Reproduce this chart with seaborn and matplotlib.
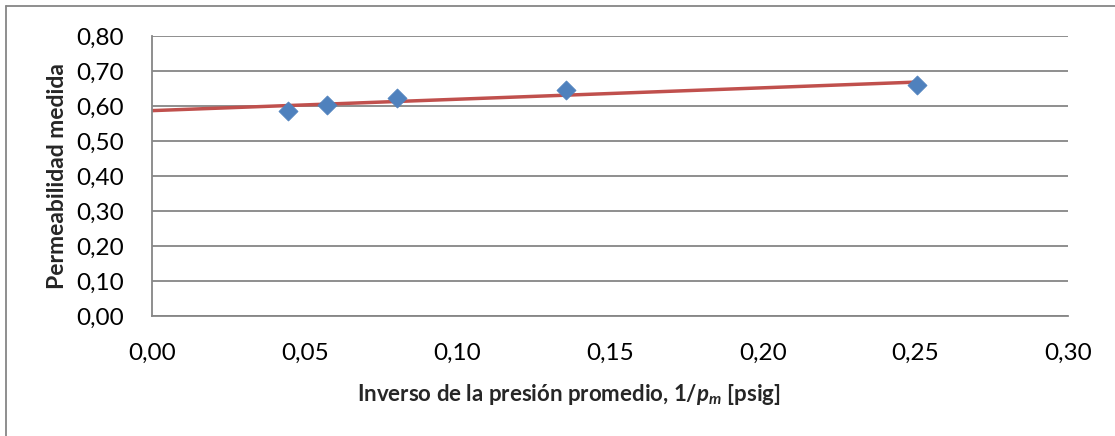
import numpy as np
import seaborn as sns
from matplotlib import pyplot as plt
from matplotlib.ticker import FuncFormatter
from matplotlib.lines import Line2D

inv_pressure = [0.0444, 0.0574, 0.0802, 0.1356, 0.2506]
permeability = [0.586, 0.603, 0.624, 0.646, 0.660]

x_ticks = [0.00, 0.05, 0.10, 0.15, 0.20, 0.25, 0.30]
y_ticks = [0.00, 0.10, 0.20, 0.30, 0.40, 0.50, 0.60, 0.70, 0.80]

sns.set_style('white')
plt.rcParams['font.family'] = ['Lato', 'DejaVu Sans']
plt.rcParams['mathtext.fontset'] = 'custom'
plt.rcParams['mathtext.it'] = 'Lato:italic:bold'
plt.rcParams['mathtext.rm'] = 'Lato:bold'

grid_col = '#868686'


def comma(v, pos):
    return f"{v:.2f}".replace('.', ',')


fig = plt.figure(figsize=(11.15, 4.36), dpi=100)
ax = fig.add_axes([152 / 1115, 120 / 436, 916 / 1115, 280 / 436])

# linear trend line (least squares), drawn from 0 to the last point
slope, intercept = np.polyfit(inv_pressure, permeability, 1)
trend_x = np.array([0.0, max(inv_pressure)])
sns.lineplot(x=trend_x, y=slope * trend_x + intercept, ax=ax,
             color='#C0504D', linewidth=2.5, zorder=2)

sns.scatterplot(x=inv_pressure, y=permeability, ax=ax, marker='D', s=95,
                color='#4F81BD', edgecolor='#4F81BD', linewidth=0.5, zorder=3)

ax.set_xlim(0, 0.30)
ax.set_ylim(0, 0.80)
ax.set_xticks(x_ticks)
ax.set_yticks(y_ticks)
ax.xaxis.set_major_formatter(FuncFormatter(comma))
ax.yaxis.set_major_formatter(FuncFormatter(comma))
ax.yaxis.grid(True, color=grid_col, linewidth=1.3)
ax.set_axisbelow(True)

for side in ['top', 'right']:
    ax.spines[side].set_visible(False)
for side in ['left', 'bottom']:
    ax.spines[side].set_color(grid_col)
    ax.spines[side].set_linewidth(1.3)

ax.tick_params(axis='both', which='major', direction='out', length=6,
               width=1.3, color=grid_col, labelsize=17.5, labelcolor='black')
ax.tick_params(axis='x', pad=13)
ax.tick_params(axis='y', pad=14)

ax.set_ylabel('Permeabilidad medida', fontsize=16.5, fontweight='bold', labelpad=6)
ax.set_xlabel(r'Inverso de la presión promedio, $\mathit{1/p_m}$ [psig]',
              fontsize=16, fontweight='bold')
ax.xaxis.set_label_coords(0.455, -0.235)

# chart area border (only top and left are inside the picture)
fig.add_artist(Line2D([6 / 1115, 6 / 1115], [0, 1 - 6 / 436],
                      transform=fig.transFigure, color=grid_col, linewidth=1.3))
fig.add_artist(Line2D([6 / 1115, 1], [1 - 6 / 436, 1 - 6 / 436],
                      transform=fig.transFigure, color=grid_col, linewidth=1.3))

fig.savefig('out.png', dpi=100)
